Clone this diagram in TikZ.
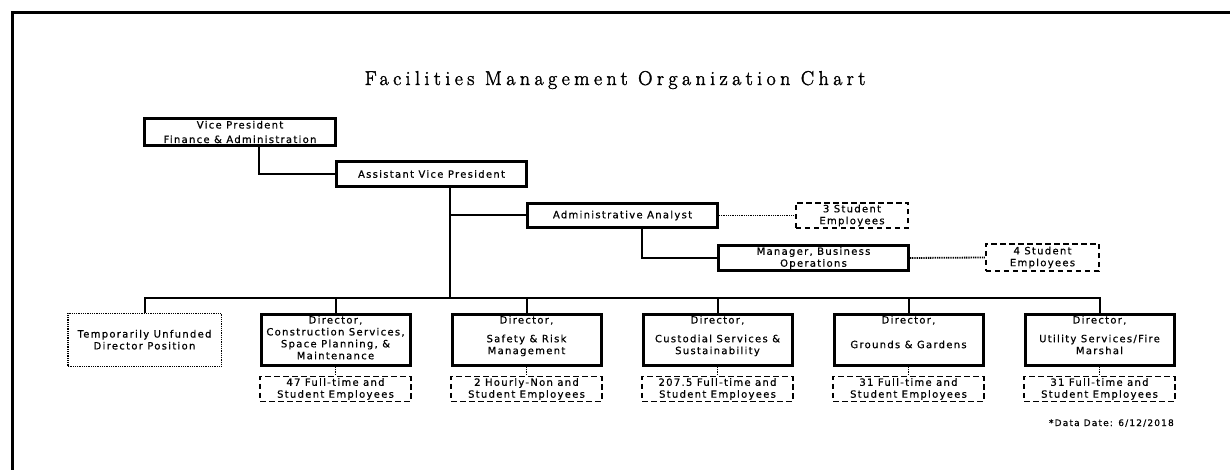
\documentclass[tikz,border=0pt]{standalone}
\usepackage{fontspec}
\newfontfamily\orgfont[LetterSpace=13,FakeBold=0.6]{DejaVu Sans}
\newfontfamily\headfont[LetterSpace=22,FakeBold=1.8]{Latin Modern Roman}

% director box body: fixed size, text hung from the top
\newcommand{\dirtext}[1]{\parbox[c][51.5pt][t]{149pt}{\centering\vspace*{1.2pt}\strut #1}}

\begin{document}
\begin{tikzpicture}[x=1pt,y=-1pt,
  bodytext/.style={font=\orgfont\fontsize{10}{11.9}\selectfont, align=center},
  solidbox/.style={bodytext, draw, line width=3pt, inner sep=0pt},
  dashbox/.style={bodytext, draw, line width=1.8pt, dash pattern=on 5.5pt off 3.5pt, inner sep=0pt},
  dotbox/.style={bodytext, draw, line width=1.5pt, dash pattern=on 1pt off 0.8pt, inner sep=0pt},
  dirbox/.style={solidbox, minimum width=149pt, minimum height=51.5pt},
  staffbox/.style={dashbox, minimum width=150.3pt, minimum height=25pt},
  link/.style={line width=2pt},
  dotlink/.style={line width=1.8pt, dash pattern=on 1pt off 0.8pt}]

% page area and outer frame
\clip (0,0) rectangle (1230,470);
\fill[white] (0,0) rectangle (1230,470);
\draw[line width=3pt] (12,480) -- (12,13) -- (1240,13);

% title
\node[font=\headfont\fontsize{20}{22}\selectfont, anchor=base] (title) at (615,85)
  {Facilities Management Organization Chart};

% upper management chain
\node[solidbox, minimum width=191pt, minimum height=27pt] (vp) at (240,132)
  {Vice President\\[2.6pt]Finance \& Administration};
\node[solidbox, minimum width=190pt, minimum height=25pt] (avp) at (431.5,174)
  {Assistant Vice President};
\node[solidbox, minimum width=190pt, minimum height=24.5pt] (aa) at (622.5,215.5)
  {Administrative Analyst};
\node[dashbox, minimum width=112.3pt, minimum height=25.3pt] (stu3) at (852,215.5)
  {3 Student\\Employees};
\node[solidbox, minimum width=190pt, minimum height=24.7pt] (mgr) at (813.5,258)
  {Manager, Business\\Operations};
\node[dashbox, minimum width=113.3pt, minimum height=27.3pt] (stu4) at (1042.5,257.5)
  {4 Student\\Employees};

\coordinate (bus) at (450,298);

% director row
\node[dotbox, minimum width=153.5pt, minimum height=53pt] (d0) at (144.5,339.75)
  {Temporarily Unfunded\\Director Position};
\node[dirbox] (d1) at (335.5,339.75)
  {\dirtext{Director,\\Construction Services,\\Space Planning, \&\\Maintenance}};
\node[dirbox] (d2) at (526.5,339.75)
  {\dirtext{Director,\\[6.8pt]Safety \& Risk\\Management}};
\node[dirbox] (d3) at (717.5,339.75)
  {\dirtext{Director,\\[6.8pt]Custodial Services \&\\Sustainability}};
\node[dirbox] (d4) at (908.5,339.75)
  {\dirtext{Director,\\[12.7pt]Grounds \& Gardens}};
\node[dirbox] (d5) at (1099.5,339.75)
  {\dirtext{Director,\\[6.8pt]Utility Services/Fire\\Marshal}};

% staff counts
\node[staffbox] (e1) at (335.5,389) {47 Full-time and\\Student Employees};
\node[staffbox] (e2) at (526.5,389) {2 Hourly-Non and\\Student Employees};
\node[staffbox] (e3) at (717.5,389) {207.5 Full-time and\\Student Employees};
\node[staffbox] (e4) at (908.5,389) {31 Full-time and\\Student Employees};
\node[staffbox] (e5) at (1099.5,389) {31 Full-time and\\Student Employees};

\node[font=\orgfont\fontsize{9}{10}\selectfont, anchor=base east, inner sep=0pt] (date) at (1174,426)
  {*Data Date: 6/12/2018};

% reporting lines
\draw[link] ([xshift=19pt]vp.south) |- (avp.west);
\draw[link] ([xshift=18.5pt]avp.south) -- (avp.south -| bus) -- (bus);
\draw[link] (aa.west) -- (aa.west -| bus);
\draw[link] ([xshift=19pt]aa.south) |- (mgr.west);
\draw[link] (d0.north) -- (d0.north |- bus) -- (d5.north |- bus) -- (d5.north);
\foreach \i in {1,2,3,4}{
  \draw[link] (d\i.north) -- (d\i.north |- bus);
}

% dotted links to student and staff groups
\draw[dotlink] (aa.east) -- (stu3.west);
\draw[dotlink] (mgr.east) -- (stu4.west);
\foreach \i in {1,...,5}{
  \draw[dotlink] (d\i.south) -- (e\i.north);
}
\end{tikzpicture}
\end{document}
